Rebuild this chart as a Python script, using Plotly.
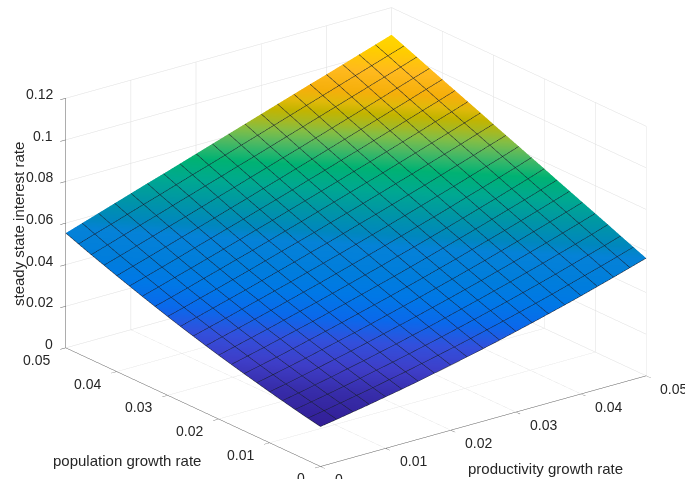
import plotly.graph_objects as go

productivity = [0, .0025, .005, .0075, .01, .0125, .015, .0175, .02, .0225, .025,
                .0275, .03, .0325, .035, .0375, .04, .0425, .045, .0475, .05]
population = list(productivity)
tick_vals = [0, .01, .02, .03, .04, .05]
tick_text = ["0", "0.01", "0.02", "0.03", "0.04", "0.05"]
z_ticks = [0, .02, .04, .06, .08, .1, .12]
z_text = ["0", "0.02", "0.04", "0.06", "0.08", "0.1", "0.12"]

# steady state rate, units of 1e-4; rows = population, columns = productivity
rate_rows = [
    [192,205,219,233,248,263,279,296,313,331,349,368,388,408,429,450,472,495,518,542,566],
    [204,218,233,248,263,280,296,314,332,350,369,389,409,430,451,473,496,519,542,566,591],
    [217,232,247,263,280,297,314,332,351,370,390,410,431,452,474,496,519,543,567,591,616],
    [231,246,263,279,297,314,333,351,371,390,411,432,453,475,497,520,543,567,591,616,642],
    [245,261,278,296,314,332,351,371,391,411,432,453,475,497,520,543,567,591,616,641,667],
    [260,277,295,313,332,351,370,390,411,432,453,475,497,520,543,567,591,616,641,666,692],
    [275,293,311,330,350,370,390,411,432,453,475,497,520,543,567,591,615,640,665,691,717],
    [291,310,329,349,369,389,410,431,453,475,497,520,543,567,591,615,640,665,690,716,742],
    [307,327,347,367,388,409,430,452,474,497,519,543,566,590,614,639,664,689,715,741,768],
    [324,345,365,386,407,429,451,473,496,519,542,566,590,614,638,663,689,714,740,766,793],
    [342,363,384,406,428,450,472,495,518,541,565,589,613,638,663,688,713,739,765,791,818],
    [360,382,404,426,448,471,494,517,541,564,588,613,637,662,687,712,738,764,790,817,843],
    [379,401,424,446,469,492,516,540,563,587,612,636,661,686,712,737,763,789,815,842,868],
    [399,421,444,468,491,515,538,562,587,611,636,661,686,711,736,762,788,814,840,867,894],
    [419,442,466,489,513,537,561,586,610,635,660,685,710,736,761,787,813,839,866,892,919],
    [440,463,487,511,536,560,585,609,634,659,684,710,735,761,786,812,838,865,891,917,944],
    [461,485,509,534,559,583,608,633,658,684,709,735,760,786,812,838,864,890,916,943,969],
    [483,507,532,557,582,607,632,658,683,709,734,760,785,811,837,863,889,915,942,968,994],
    [505,530,556,581,606,632,657,683,708,734,759,785,811,837,863,889,915,941,967,993,1020],
    [528,554,579,605,631,656,682,708,733,759,785,811,837,863,889,915,941,967,993,1019,1045],
    [552,578,604,630,656,682,707,733,759,785,811,837,863,889,915,941,966,992,1018,1044,1070],
]
rate = [[v * 1e-4 for v in row] for row in rate_rows]

color_z = [.0192, .025, .03, .035, .04, .045, .05, .0565, .059, .0643, .0695, .0747,
           .0773, .0799, .0825, .0851, .0877, .0903, .0929, .0981, .1033, .107]
color_rgb = ["rgb(50,30,150)", "rgb(55,45,170)", "rgb(62,62,200)", "rgb(50,80,220)",
             "rgb(10,105,235)", "rgb(0,120,230)", "rgb(0,125,220)", "rgb(5,130,215)",
             "rgb(0,135,190)", "rgb(0,150,165)", "rgb(0,168,145)", "rgb(0,178,115)",
             "rgb(45,182,108)", "rgb(85,185,95)", "rgb(130,190,70)", "rgb(165,185,35)",
             "rgb(195,180,0)", "rgb(225,185,10)", "rgb(245,175,10)", "rgb(255,185,30)",
             "rgb(255,205,0)", "rgb(255,215,0)"]
zmin, zmax = color_z[0], color_z[-1]
colorscale = [[(c - zmin) / (zmax - zmin), col] for c, col in zip(color_z, color_rgb)]

FONT = "Liberation Sans"
TXT = "rgb(38,38,38)"
grid = "rgb(222,222,222)"
axis_common = dict(showbackground=False, showgrid=True, gridcolor=grid, gridwidth=1,
                   showline=True, linecolor="rgb(90,90,90)", linewidth=1,
                   zeroline=False, ticks="outside", ticklen=7, tickcolor="rgb(90,90,90)",
                   showticklabels=False, showspikes=False, title=dict(text=""))
tick_font = dict(family=FONT, size=14, color=TXT)

scene_labels = []
for v, t in zip(z_ticks, z_text):
    scene_labels.append(dict(x=0, y=.05, z=v, text=t, showarrow=False, font=tick_font,
                             xanchor="right", yanchor="middle", xshift=-11, yshift=4))
for v, t in zip(tick_vals, tick_text):
    scene_labels.append(dict(x=0, y=v, z=0, text=t, showarrow=False, font=tick_font,
                             xanchor="right", yanchor="middle", xshift=-14, yshift=-12))
    scene_labels.append(dict(x=v, y=0, z=0, text=t, showarrow=False, font=tick_font,
                             xanchor="left", yanchor="middle", xshift=12, yshift=-13))

fig = go.Figure(go.Surface(
    x=productivity, y=population, z=rate,
    colorscale=colorscale, cmin=zmin, cmax=zmax, showscale=False, hoverinfo="skip",
    lighting=dict(ambient=1, diffuse=0, specular=0, roughness=1, fresnel=0),
    contours=dict(
        x=dict(show=True, start=0, end=.05, size=.0025, color="rgb(25,30,45)", width=2),
        y=dict(show=True, start=0, end=.05, size=.0025, color="rgb(25,30,45)", width=2),
    ),
))
title_font = dict(family=FONT, size=15, color=TXT)
fig.update_layout(
    width=685, height=479,
    margin=dict(l=0, r=0, t=0, b=0),
    paper_bgcolor="white",
    scene=dict(
        domain=dict(x=[0.04, 1], y=[0, 1]),
        aspectmode="manual", aspectratio=dict(x=1.719, y=1.739, z=1.117),
        camera=dict(projection=dict(type="orthographic"),
                    eye=dict(x=-1.141, y=-1.476, z=0.709),
                    center=dict(x=0, y=0, z=-0.011), up=dict(x=0, y=0, z=1)),
        xaxis=dict(range=[0, .05], tickvals=tick_vals, ticktext=tick_text, **axis_common),
        yaxis=dict(range=[0, .05], tickvals=tick_vals, ticktext=tick_text, **axis_common),
        zaxis=dict(range=[0, .12], tickvals=z_ticks, ticktext=z_text, **axis_common),
        annotations=scene_labels,
    ),
    annotations=[
        dict(text="steady state interest rate", x=18/685, y=1-224/479, xref="paper", yref="paper",
             xanchor="center", yanchor="middle", showarrow=False, textangle=-90, font=title_font),
        dict(text="population growth rate", x=127/685, y=1-460/479, xref="paper", yref="paper",
             xanchor="center", yanchor="middle", showarrow=False, font=title_font),
        dict(text="productivity growth rate", x=545/685, y=1-468/479, xref="paper", yref="paper",
             xanchor="center", yanchor="middle", showarrow=False, font=title_font),
    ],
)
fig.write_html("out.html", config=dict(displayModeBar=False),
               post_script="document.body.style.margin='0';")
